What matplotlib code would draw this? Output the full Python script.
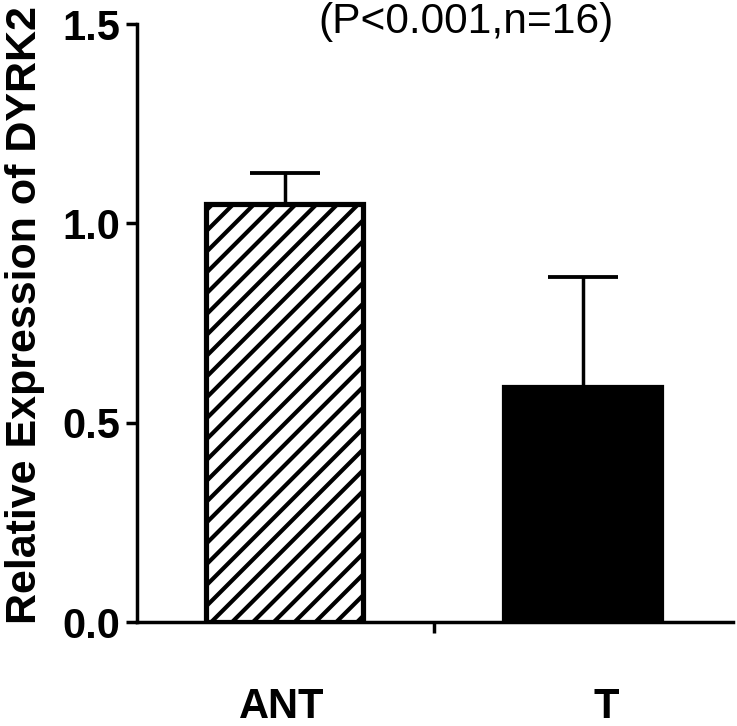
import matplotlib
matplotlib.use("Agg")
import matplotlib.pyplot as plt

categories = ["ANT", "T"]
means = [1.048, 0.589]
errors = [0.078, 0.276]
yticks = [0.0, 0.5, 1.0, 1.5]
ytick_labels = ["0.0", "0.5", "1.0", "1.5"]
title_text = "(P<0.001,n=16)"
ylabel_text = "Relative Expression of DYRK2"

DPI = 125
W, H = 737, 726
plt.rcParams["font.family"] = ["Liberation Sans", "DejaVu Sans"]
plt.rcParams["hatch.linewidth"] = 2.4

fig = plt.figure(figsize=(W / DPI, H / DPI), dpi=DPI)
ax = fig.add_axes([137 / W, 1 - 622 / H, (733 - 137) / W, (622 - 24) / H])

x = list(range(len(categories)))
hatches = ["//", ""]
faces = ["white", "black"]
for i in x:
    ax.bar(x[i], means[i], width=0.53, color=faces[i], edgecolor="black",
           linewidth=3.0, hatch=hatches[i], zorder=2)
eb = ax.errorbar(x, means, yerr=[[0, 0], errors], fmt="none", ecolor="black",
                 elinewidth=2.0, capsize=20, capthick=2.2, zorder=1)
for cap in eb[1]:
    cap.set_solid_capstyle("round")

ax.set_xlim(-0.495, 1.505)
ax.set_ylim(0, 1.5)
ax.spines["top"].set_visible(False)
ax.spines["right"].set_visible(False)
for s in ["left", "bottom"]:
    ax.spines[s].set_linewidth(2.0)
ax.set_yticks(yticks)
ax.set_yticklabels(ytick_labels, fontsize=24, fontweight="bold")
ax.set_xticks([0.5])
ax.set_xticklabels([""])
ax.tick_params(axis="both", direction="out", length=6.5, width=2.0, pad=3)

for i in x:
    off = [-0.01, 0.08][i]
    ax.text(x[i] + off, -0.212, categories[i], ha="center", va="center",
            fontsize=24, fontweight="bold", transform=ax.transData, clip_on=False)

fig.text(466 / W, 1 - 22 / H, title_text, ha="center", va="center", fontsize=24.5)
fig.text(25 / W, 1 - 315 / H, ylabel_text, ha="center", va="center",
         rotation=90, fontsize=24.8, fontweight="bold")

fig.savefig("out.png", dpi=DPI)
